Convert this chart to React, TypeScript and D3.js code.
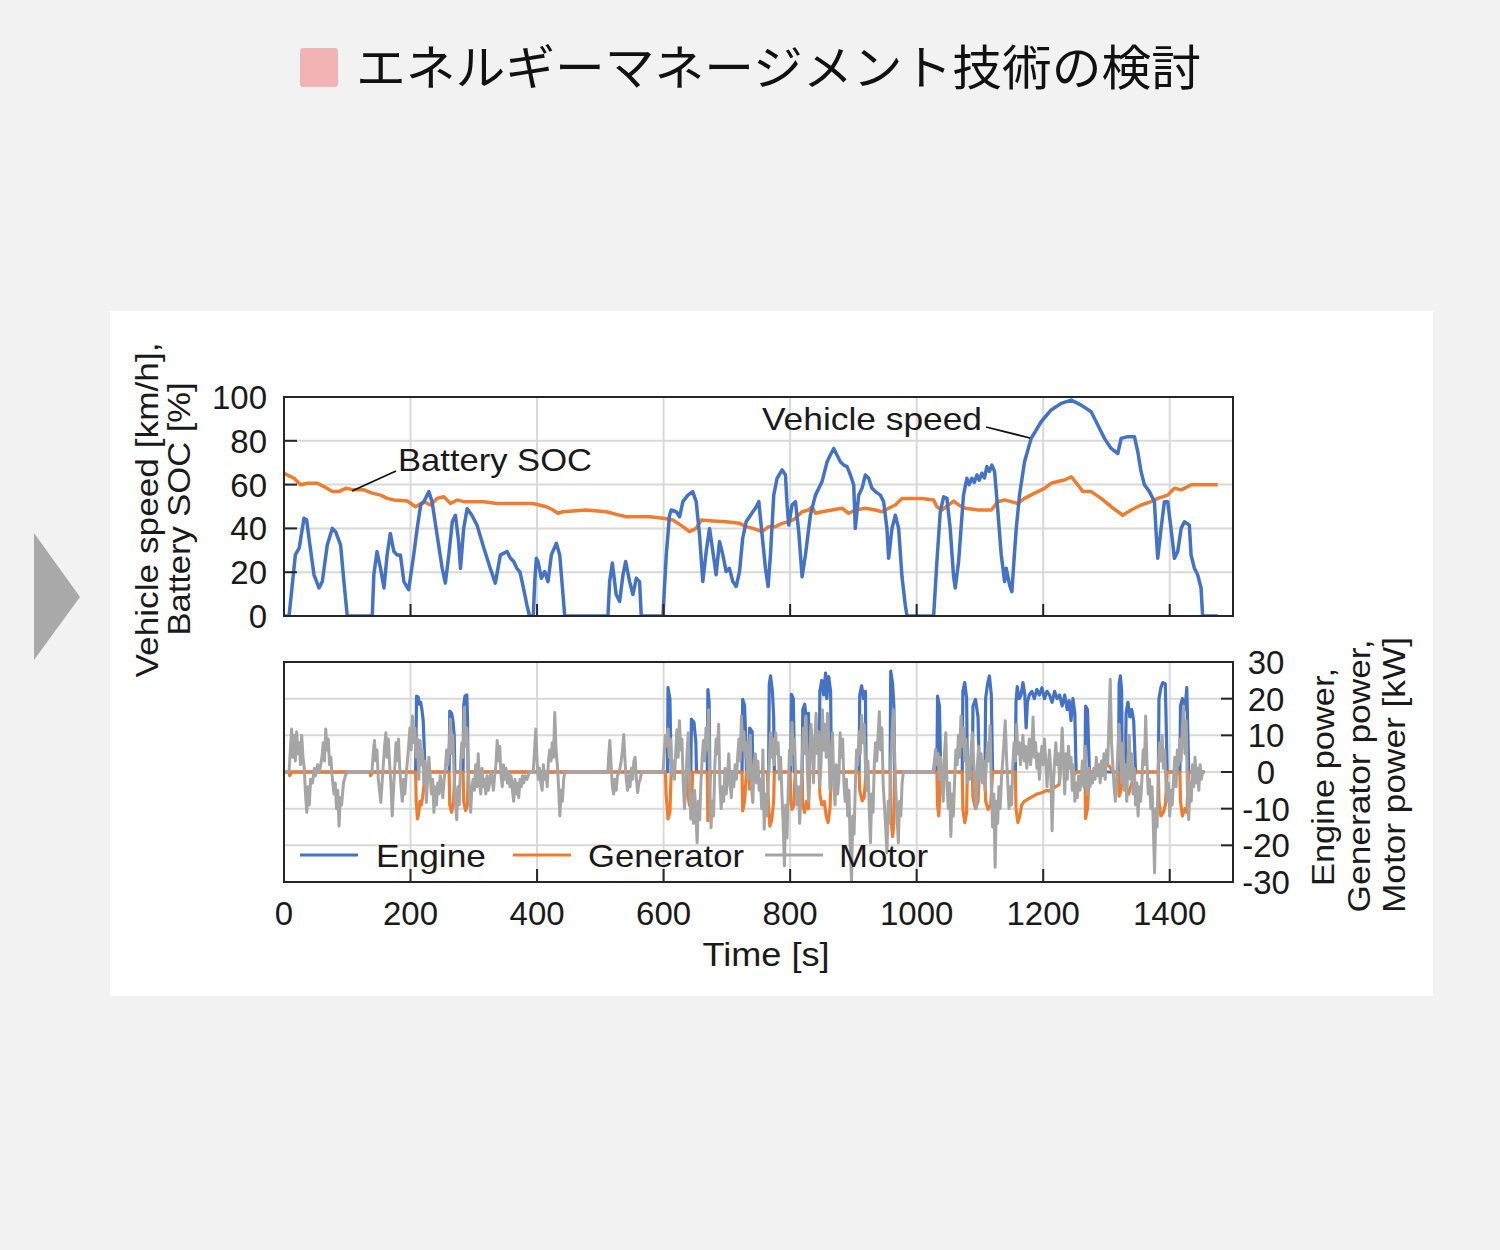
import React from "react";
import * as d3 from "d3";

const titleText = "エネルギーマネージメント技術の検討";
const timeTicks = [0, 200, 400, 600, 800, 1000, 1200, 1400];
const speedTicks = [0, 20, 40, 60, 80, 100];
const powerTicks = [30, 20, 10, 0, -10, -20, -30];
const seriesNames = ["Engine", "Generator", "Motor"];

// [time s, speed km/h]
const vehicleSpeed: [number, number][] = [
  [0,0],[8,0],[18,28],[24,31],[31.6,44.6],[35.8,43.8],[39.5,35.5],[47.4,18.8],[55.3,12.8],[60.5,15.7],[68.4,32.4],[76.3,40],[81.6,38.5],[89.5,32.4],[94.7,15.7],[100,0],
  [139.5,0],[142,18.8],[147,29.4],[152.6,21.8],[158,12.8],[163,27.9],[168,37.7],[173.7,29.4],[179,27.9],[184,27.9],[189.5,15.7],[197,12],[205,27.9],[210.5,40],[216,50.7],[221,52.2],[229,56.8],[234,52.2],[242,37],[250,21.8],[255,15],[260.5,27.9],[266,43],[271,46],[276,34],[279,21.8],[284,40],[289.5,49],[297,46],[305,41.5],[316,30.9],[326,21.8],[334,15],[342,27.9],[352.6,29.4],[358,26.4],[363,24.9],[368,21.8],[373,20],[379,12],[384,5],[388,0],
  [394,0],[396.3,15.7],[398.9,26.4],[401.5,24.9],[406.8,17.2],[412,20.3],[417.3,15.7],[422.6,27.9],[430.5,33.2],[435.8,27.9],[441,9.8],[443.7,0],
  [512,0],[514.7,15.7],[519,24.2],[525,9.8],[530.5,6.6],[535.8,18.8],[540,24.9],[546.3,15.7],[551.5,9.8],[556.8,17.2],[562,15.7],[564.7,0],
  [599,0],[604.2,27.9],[609.4,46],[612,48.4],[620,47.6],[625.2,45.3],[630.5,52.2],[638.4,55.2],[646,56.8],[651.5,52.2],[656.8,37],[662,15.7],[667.3,29.4],[672.6,40],[677.9,29.4],[683,18.8],[688.4,34],[693.6,27.9],[698.9,20.3],[704,21.8],[709.4,15.7],[714.7,13.5],[720,20.3],[725,35.5],[730.5,43],[741,47.6],[745.2,49.2],[750.5,52.2],[755.7,37],[761,21.8],[765.2,13.5],[768.9,27.9],[774.1,55.2],[779.4,62.9],[787.3,66.7],[792.6,64.4],[795.2,50.7],[797.8,41.5],[803,50.7],[808.4,52.2],[813.6,38.5],[818.9,17.9],[824.2,27.9],[832,46],[840,55.2],[850.5,61.4],[858.4,70.4],[863.6,73.5],[868.9,76.5],[874.1,73.5],[879.4,70.4],[884.7,68.9],[890,68.2],[895.2,64.4],[900.5,59.9],[903,40],[908.4,55.2],[913.6,58.3],[918.9,64.4],[924.1,62.9],[929.4,58.3],[934.7,56.8],[942.6,55.2],[947.8,52.2],[953,40],[955.7,26.4],[961,40],[966.3,46],[971.5,40],[976.8,17.9],[982,5],[984.7,0],
  [1026.8,0],[1032,24.9],[1037.3,47.6],[1042.6,54.4],[1047.8,53.7],[1053,40],[1058.4,17.9],[1061,12.8],[1066.3,24.9],[1074,55.2],[1079.4,62.9],[1083,60],[1087.3,62.9],[1091,61],[1095.2,64.4],[1099,62],[1103,65.2],[1107,63],[1111,68.2],[1115,66],[1118.9,68.9],[1123.2,65.9],[1128.4,47.6],[1133.7,27.9],[1139,15.7],[1141.6,21.8],[1146.8,14.2],[1150.5,11.1],[1153.7,24.9],[1157.4,40],[1162.6,55.2],[1170.5,70.4],[1181,81.1],[1196.8,88.7],[1212.6,94.1],[1228.4,97.1],[1244.2,98.6],[1260,96.3],[1275.8,93.3],[1286.3,87.2],[1296.8,81.1],[1307.4,76.5],[1317.9,74.2],[1323.2,81.1],[1333.7,81.9],[1344.2,81.9],[1349.5,75],[1354.7,65.9],[1360,59.9],[1367.9,56.8],[1375.8,52.2],[1378.4,38.5],[1381,26.4],[1386.3,40],[1391.6,52.2],[1396.8,52.2],[1402,40],[1407.4,26.4],[1412.6,29.4],[1418,40],[1423.2,43],[1431,41.5],[1433.7,27.9],[1439,21.8],[1444.2,18.8],[1449.5,12.8],[1452,0],[1476,0]
];

// [time s, SOC %]
const batterySoc: [number, number][] = [
  [0,65.2],[15.8,62.9],[26.3,59.9],[36.8,60.6],[52.6,60.6],[63.2,59.1],[76.3,56.8],[86.8,56.8],[97.4,58.3],[110.5,57.6],[126.3,57.6],[139.5,56.1],[152.6,55.2],[163.2,53.7],[173.7,53],[194.7,52.5],[207.9,49.9],[221,52.2],[231.6,50.7],[242,53.7],[252.6,54.5],[263.2,51.4],[273.7,53],[284.2,52.2],[294.7,52.2],[315.8,52.2],[336.8,51.4],[357.9,51.4],[372.6,51.4],
  [393.7,51.4],[414.7,49.9],[425.2,48.4],[433.1,46.9],[441,47.6],[477.9,48.4],[509.4,47.6],[525.2,46.4],[541,45.3],[562,45.3],[578,45.3],[599,44.6],[614.7,43.8],[630.5,40.8],[641,38.5],[651.5,40],[659.4,43.8],[677.9,43.4],[699,43],[720,42.3],[730.5,40.8],[741,40],[755.7,38.5],
  [766,40.8],[776.8,40.8],[787.3,42.3],[797.8,43],[808.4,44.6],[818.9,47.6],[829.4,48.4],[834.7,49.9],[840,46.9],[850.5,47.6],[866.3,48.4],[882,49.2],[892.6,46.9],[903,48.4],[918.9,49.2],[934.7,48.4],[945.2,47.6],[955.7,49.2],[966.3,50.7],[976.8,53.7],[1008.4,53.7],[1026.8,53],[1032,49.9],[1040,48.4],[1050.5,50.7],[1058.4,52.5],[1066.3,50.7],[1076.8,49.2],[1097.8,48.4],[1118,48.4],
  [1128.4,52.2],[1139,53],[1149.5,52.2],[1160,51.4],[1170.5,53.7],[1186.3,56.1],[1202,58.3],[1212.6,60.6],[1223,61.4],[1233.7,62.1],[1244.2,63.6],[1254.7,59.9],[1262.6,56.8],[1275.8,56.8],[1291.6,53.7],[1307.4,49.9],[1325.8,46],[1339,48.4],[1354.7,50.7],[1370.5,52.2],[1381,53.7],[1396.8,55.2],[1407.4,58.3],[1418,57.6],[1433.7,59.9],[1449.5,59.9],[1475.8,59.9]
];

// [time s, kW]
const enginePower: [number, number][] = [
  [0,0],[208,0],[209.5,20.7],[212,20.5],[214,18.5],[216,19],[218,17],[220,14],[222,5],[223,0],
  [261,0],[262,16.6],[265,16],[267,14],[269,10],[270,0],
  [283,0],[284,18],[286,20.7],[289,21],[290,15],[291,0],
  [606,0],[607,23],[610,20],[612,0],
  [643,0],[644,14.4],[648,13.5],[651,8],[652,0],
  [669,0],[670,22.5],[672,19],[673,0],
  [724,0],[725,19.8],[728,18],[730,8],[731,0],
  [735,0],[736,12],[740,11],[741,0],
  [766,0],[767,24],[769,26.2],[772,22],[774,15],[775,0],
  [801,0],[802,21.2],[805,20],[807,0],
  [819,0],[820,17],[823,18.5],[826,14],[829,16],[830,0],
  [846,0],[847,22],[850,25],[853,21],[856,27],[858,20],[861,26],[864,22],[865,0],
  [909,0],[910,21],[913,23.5],[916,20],[919,22],[920,0],
  [958,0],[959,27.5],[962,24],[964,18],[965,0],
  [1032,0],[1033,20.7],[1036,18],[1038,0],
  [1072,0],[1073,22],[1076,24.4],[1079,20],[1080,0],
  [1088,0],[1089,18],[1093,19.8],[1097,15],[1099,0],
  [1108,0],[1109,20],[1112,24],[1115,26.2],[1118,21],[1120,0],
  [1156,0],[1157,19],[1159,23.3],[1162,20],[1165,21],[1168,24.4],[1171,21],[1173,12],[1175,19],[1178,21],[1182,22],[1186,20],[1190,22.5],[1194,21],[1198,23],[1202,20],[1206,22],[1210,21],[1214,19],[1218,22],[1222,20],[1226,21],[1230,18],[1234,21],[1238,17],[1241,19.5],[1244,14],[1247,20],[1250,16],[1252,0],
  [1266,0],[1267,18],[1270,17],[1273,0],
  [1319,0],[1320,24],[1322,26.2],[1324,22],[1325,0],
  [1330,0],[1331,16],[1334,19],[1337,15],[1340,17],[1343,14],[1346,0],
  [1382,0],[1383,20],[1386,23],[1389,24.4],[1393,24],[1396,0],
  [1416,0],[1417,18],[1420,20],[1424,17],[1427,23],[1430,0],[1455,0]
];

const generatorPower: [number, number][] = [
  [0,0],[8,0],[9,-1],[12,0],[136,0],[137,-1],[140,0],
  [208,0],[209,-8],[211,-12.8],[213,-11],[215,-8],[217,-9],[219,-7],[221,-4],[223,0],
  [261,0],[262,-9],[265,-11],[268,-8],[270,0],
  [283,0],[284,-8],[287,-10.5],[290,-9],[291,0],
  [603,0],[604,-6],[607,-12.8],[610,-11],[612,0],
  [637,0],[638,-6],[641,-9.1],[644,-8],[646,0],
  [669,0],[670,-13.3],[672,-9],[674,0],
  [724,0],[725,-10.6],[728,-8],[731,0],
  [735,0],[736,-4.7],[740,-4],[741,0],
  [764,0],[766,-10],[768,-14.8],[771,-13],[774,-8],[775,0],
  [800,0],[801,-8],[803,-10.2],[806,-9],[808,0],
  [819,0],[820,-9],[823,-11],[826,-8],[829,-10],[831,0],
  [846,0],[847,-6],[850,-9],[854,-8],[857,-12],[860,-13.8],[863,-10],[865,0],
  [909,0],[910,-5],[914,-7.9],[917,-7],[920,0],
  [958,0],[959,-12],[962,-17.6],[964,-14],[965,0],
  [1032,0],[1033,-9],[1035,-12],[1038,0],
  [1072,0],[1073,-10],[1076,-13.8],[1079,-11],[1080,0],
  [1088,0],[1089,-7],[1093,-10],[1097,-8],[1099,0],
  [1108,0],[1109,-8],[1113,-10.2],[1117,-9],[1120,0],
  [1156,0],[1157,-10],[1160,-13.8],[1163,-12],[1166,-9],[1170,-8],[1175,-7.5],[1180,-7],[1185,-6.5],[1190,-6],[1195,-5.8],[1200,-5.5],[1205,-5],[1210,-5.2],[1215,-4.5],[1220,-4],[1225,-3.5],[1228,2],[1232,4],[1236,1.5],[1240,3],[1244,1],[1247,-1],[1250,-0.5],[1252,0],
  [1266,0],[1267,-12.7],[1270,-10],[1273,0],
  [1285,0],[1288,1.5],[1295,1],[1300,2],[1305,1.5],[1310,0],
  [1319,0],[1320,-6.6],[1323,-5],[1325,0],
  [1330,0],[1331,-4],[1335,-6],[1340,-3],[1346,0],
  [1382,0],[1383,-8],[1386,-12],[1390,-11],[1393,-9],[1396,0],
  [1416,0],[1417,-8],[1420,-12],[1424,-10],[1427,-11],[1430,0],[1455,0]
];

const motorPower: [number, number][] = [
  [0,0],[8,0],[10,6],[12,11.7],[14,4],[16,10],[18,3],[20,11],[22,5],[24,8],[26,2],[28,10],[30,4],[32,1],[34,-6],[36,-11],[38,-4],[40,-9],[42,-2],[45,-3],[48,1],[50,-1],[53,2],[56,0],[60,4],[62,8],[64,3],[66,11.7],[68,6],[70,9],[72,2],[74,4],[76,-1],[79,-6],[81,-3],[83,-10],[85,-5],[87,-14.8],[89,-7],[91,-9],[94,-3],[97,-1],[100,0],
  [139,0],[141,5],[143,8.6],[145,3],[147,6],[149,-2],[151,-5],[153,-8.3],[155,-3],[157,2],[159,7],[161,10.7],[163,4],[165,9],[167,2],[169,-3],[171,-12],[173,-5],[175,1],[177,8],[179,3],[181,9],[183,1],[185,-4],[187,-8],[189,-2],[191,-6],[193,-1],[195,3],[197,7],[199,12],[201,6],[203,15.3],[205,8],[207,12],[209,4],
  [211,9],[213,-2],[215,8.6],[217,2],[219,6],[221,-3],[223,3],[225,-8.3],[227,-2],[229,4],[231,-1],[233,-6],[235,-2],[237,-11],[239,-4],[241,-9],[243,-3],[245,-6],[247,-1],[249,-4],[251,-7],[253,-2],[255,1],[257,6],[259,2],[261,7],[263,14.4],[265,5],[267,10],[269,-2],[271,-8],[273,-13],[275,-4],[277,-9],[279,2],[281,8],[283,4],[285,17.6],[287,7],[289,12],[291,3],[293,-6],[295,-11],[297,-4],[299,-2],[301,-5],[303,2],[305,-4],[307,5],[309,-3],[311,-6],[313,1],[315,-4],[317,-2],[319,-6],[321,-1],[323,-5],[325,-3],[327,0],[329,-2],[331,-5],[333,-1],[335,2],[337,8.6],[339,3],[341,7],[343,-1],[345,-4],[347,2],[349,-2],[351,1],[353,-3],[355,0],[357,-4],[359,-1],[361,-5],[363,-8],[365,-2],[367,-6],[369,-3],[371,-7],[373,-2],[375,-4],[377,-1],[379,-3],[381,-1],[384,-2],[388,0],
  [394,0],[396,6],[398,11.7],[400,3],[402,-2],[404,1],[406,-3],[408,-5],[410,2],[412,-2],[414,0],[416,-4],[418,3],[420,6],[422,3],[424,8],[426,4],[428,16.2],[430,6],[432,2],[434,-4],[436,-12],[438,-5],[440,-8],[442,-2],[444,0],
  [512,0],[513,4],[515,8.6],[517,2],[519,-4],[521,-6],[523,-2],[525,-5],[527,-1],[530,0],[533,3],[535,6],[537,10.2],[539,3],[541,-2],[543,-5],[545,-1],[547,-4],[549,1],[551,-2],[553,3],[555,4],[557,-2],[559,-5.6],[561,-3],[563,-2],[565,0],
  [599,0],[601,5],[603,10],[605,7],[607,11.7],[609,4],[611,9],[613,-1],[615,3],[617,-2],[619,5],[621,11.5],[623,4],[625,14],[627,6],[629,9],[631,-3],[633,-10],[635,-4],[637,5],[639,10.7],[641,-2],[643,-12.8],[645,-6],[647,-14],[649,-5],[651,-11],[653,-19.3],[655,-8],[657,-13],[659,-3],[661,4],[663,8.6],[665,3],[667,12],[669,6],[671,17],[673,-4],[675,-15.2],[677,-8],[679,-12],[681,2],[683,9],[685,5],[687,13],[689,-3],[691,-10],[693,-4],[695,-8],[697,1],[699,-6],[701,-2],[703,5],[705,-3],[707,-7],[709,0],[711,-4],[713,2],[715,-2],[717,4],[719,9],[721,3],[723,15.3],[725,6],[727,11],[729,4],[731,8],[733,-2],[735,5],[737,10],[739,-4],[741,-8.3],[743,2],[745,5],[747,-3],[749,3],[751,-5],
  [753,-2],[755,-10],[757,6],[759,-15.6],[761,-6],[763,-12],[765,-4],[767,3],[769,10.7],[771,4],[773,9],[775,2],[777,10.7],[779,5],[781,8],[783,-2],[785,4],[787,-6],[789,-14],[791,-25.6],[793,-9],[795,-18],[797,-5],[799,6],[801,2],[803,13.5],[805,5],[807,9],[809,-3],[811,-9],[813,-4],[815,-14],[817,-6],[819,3],[821,12],[823,5],[825,15.3],[827,2],[829,-8],[831,4],[833,13],[835,7],[837,-3],[839,9],[841,16],[843,5],[845,11],[847,-4],[849,3],[851,17],[853,6],[855,13],[857,4],[859,16],[861,8],[863,-5],[865,3],[867,10.7],[869,-4],[871,-9],[873,2],[875,-6],[877,-2],[879,10.7],[881,4],[883,9],[885,-3],[887,-8],[889,-2],[891,-12],[893,-5],[895,-20],[897,-30],[899,-12],[901,-17],[903,-4],[905,6],[907,2],[909,11],[911,5],[913,15.5],[915,8],[917,13],[919,2],[921,-5],[923,3],[925,-10],[927,-19.3],[929,-6],[931,-11],[933,2],[935,8],[937,3],[939,10],[941,16.4],[943,6],[945,12],[947,-3],[949,-9],[951,-15],[953,-22],[955,-8],[957,-14],[959,3],[961,10],[963,17],[965,6],[967,-5],[969,-12],[971,-19.3],[973,-8],[975,-12],[977,-3],[979,0],
  [1026,0],[1028,3],[1030,6.2],[1032,2],[1034,5],[1036,-2],[1038,4],[1040,-3],[1042,-8],[1044,5],[1046,10.7],[1048,-4],[1050,-10],[1052,-3],[1054,-17.6],[1056,-6],[1058,-12],[1060,-2],[1062,6],[1064,2],[1066,10],[1068,4],[1070,15.3],[1072,7],[1074,12],[1076,3],[1078,9],[1080,-3],[1082,4],[1084,-2],[1086,6],[1088,10.7],[1090,3],[1092,-4],[1094,-10],[1096,2],[1098,7],[1100,-2],[1102,5],[1104,-3],[1106,3],[1108,-5],[1110,2],[1112,8],[1114,3],[1116,12.7],[1118,-4],[1120,-15],[1122,-6],[1124,-26],[1126,-8],[1128,-14],[1130,-4],[1132,-10],[1134,-2],[1136,3],[1138,8],[1140,14],[1142,4],[1144,-3],[1146,-10],[1148,-4],[1150,-9],[1152,2],[1154,8],[1156,3],[1158,13],[1160,5],[1162,8],[1164,2],[1166,6],[1168,10],[1170,3],[1172,7],[1174,1],[1176,5],[1178,9],[1180,2],[1182,6],[1184,15],[1186,4],[1188,8],[1190,1],[1192,5],[1194,-2],[1196,4],[1198,7],[1200,2],[1202,9],[1204,3],[1206,-4],[1208,2],[1210,6],[1212,0],[1214,-16],[1216,-4],[1218,3],[1220,8],[1222,2],[1224,5],[1226,-3],[1228,4],[1230,12],[1232,3],[1234,-6],[1236,5],[1238,-2],[1240,7],[1242,1],[1244,4],[1246,-5],[1248,2],[1250,-8],[1252,-3],[1254,-7],[1256,-1],[1258,-5],[1260,-2],[1262,3],[1264,-4],[1266,7],[1268,-3],[1270,-6],[1272,1],[1274,-4],[1276,-1],[1278,-3],[1280,1],[1282,-2],[1284,4],[1286,-1],[1288,2],[1290,-3],[1292,3],[1294,-1],[1296,5],[1298,-2],[1300,6],[1302,2],[1304,14],[1306,25.3],[1308,8],[1310,2],[1312,-4],[1314,-8],[1316,-2],[1318,6],[1320,13],[1322,4],[1324,-3],[1326,8],[1328,-5],[1330,2],[1332,-8],[1334,3],[1336,10],[1338,-2],[1340,5],[1342,-6],[1344,1],[1346,-9],[1348,-3],[1350,-12],[1352,-4],[1354,-8],[1356,-2],[1358,6],[1360,2],[1362,15.3],[1364,3],[1366,-6],[1368,-2],[1370,-10],[1372,-4],[1374,-14],[1376,-27.5],[1378,-10],[1380,-15],[1382,2],[1384,8],[1386,3],[1388,10],[1390,1],[1392,6],[1394,-3],[1396,-8],[1398,-3],[1400,-12],[1402,-5],[1404,-9],[1406,-2],[1408,4],[1410,-4],[1412,6],[1414,2],[1416,9],[1418,3],[1420,12],[1422,18],[1424,5],[1426,14],[1428,-6],[1430,-13],[1432,-3],[1434,-8],[1436,2],[1438,-4],[1440,4],[1442,-3],[1444,1],[1446,-5],[1448,2],[1450,-2],[1452,0],[1455,0]
];

const BLUE = "#4472c4";
const ORANGE = "#ed7d31";
const GRAY = "#a5a5a5";
const GRID = "#d9d9d9";
const FRAME = "#262626";
const TXT = "#1a1a1a";
const FONT = "'Liberation Sans', Arial, sans-serif";

export default function App() {
  const x = d3.scaleLinear().domain([0, 1500]).range([284, 1233]);
  const yTop = d3.scaleLinear().domain([0, 100]).range([616, 397]);
  const yBot = d3.scaleLinear().domain([-30, 30]).range([882, 662]);
  const lineTop = d3.line<[number, number]>().x(d => x(d[0])).y(d => yTop(d[1]));
  const lineBot = d3.line<[number, number]>().x(d => x(d[0])).y(d => yBot(d[1]));
  const [x0, x1] = x.range();
  const topY0 = yTop(100), topY1 = yTop(0);
  const botY0 = yBot(30), botY1 = yBot(-30);

  return (
    <svg width={1500} height={1250} style={{ position: "absolute", left: 0, top: 0 }} fontFamily={FONT}>
      <defs>
        <clipPath id="clipTop"><rect x={x0} y={topY0} width={x1 - x0} height={topY1 - topY0} /></clipPath>
        <clipPath id="clipBot"><rect x={x0} y={botY0} width={x1 - x0} height={botY1 - botY0} /></clipPath>
      </defs>
      <rect x={0} y={0} width={1500} height={1250} fill="#f2f2f2" />
      {/* title */}
      <rect x={300} y={48} width={38} height={39} rx={3} fill="#f1b3b3" />
      <text x={356} y={85} fontSize={48} fill="#111" fontFamily="'Noto Sans CJK JP', sans-serif" textLength={845} lengthAdjust="spacingAndGlyphs">{titleText}</text>
      {/* arrow */}
      <polygon points="34,533 80,597 34,660" fill="#a9a9a9" />
      {/* panel */}
      <rect x={110} y={311} width={1323} height={685} fill="#ffffff" />

      {/* top plot grid */}
      {speedTicks.filter(v => v > 0 && v < 100).map(v => (
        <line key={"hg" + v} x1={x0} x2={x1} y1={yTop(v)} y2={yTop(v)} stroke={GRID} strokeWidth={2} />
      ))}
      {timeTicks.filter(t => t > 0).map(t => (
        <line key={"vg" + t} x1={x(t)} x2={x(t)} y1={topY0} y2={topY1} stroke={GRID} strokeWidth={2} />
      ))}
      {/* bottom plot grid */}
      {powerTicks.filter(v => v > -30 && v < 30).map(v => (
        <line key={"hb" + v} x1={x0} x2={x1} y1={yBot(v)} y2={yBot(v)} stroke={GRID} strokeWidth={2} />
      ))}
      {timeTicks.filter(t => t > 0).map(t => (
        <line key={"vb" + t} x1={x(t)} x2={x(t)} y1={botY0} y2={botY1} stroke={GRID} strokeWidth={2} />
      ))}

      {/* top series */}
      <g clipPath="url(#clipTop)" fill="none" strokeLinejoin="round">
        <path d={lineTop(batterySoc) || ""} stroke={ORANGE} strokeWidth={3.5} />
        <path d={lineTop(vehicleSpeed) || ""} stroke={BLUE} strokeWidth={3.5} />
      </g>
      {/* bottom series */}
      <g clipPath="url(#clipBot)" fill="none" strokeLinejoin="round">
        <path d={lineBot(enginePower) || ""} stroke={BLUE} strokeWidth={3.2} />
        <path d={lineBot(generatorPower) || ""} stroke={ORANGE} strokeWidth={3.2} />
        <path d={lineBot(motorPower) || ""} stroke={GRAY} strokeWidth={3} />
      </g>

      {/* frames */}
      <rect x={x0} y={topY0} width={x1 - x0} height={topY1 - topY0} fill="none" stroke={FRAME} strokeWidth={2} />
      <rect x={x0} y={botY0} width={x1 - x0} height={botY1 - botY0} fill="none" stroke={FRAME} strokeWidth={2} />

      {/* ticks */}
      {speedTicks.map(v => (
        <line key={"tl" + v} x1={x0} x2={x0 + 13} y1={yTop(v)} y2={yTop(v)} stroke={FRAME} strokeWidth={2} />
      ))}
      {timeTicks.map(t => (
        <g key={"tx" + t}>
          <line x1={x(t)} x2={x(t)} y1={topY1} y2={topY1 - 12} stroke={FRAME} strokeWidth={2} />
          <line x1={x(t)} x2={x(t)} y1={botY1} y2={botY1 - 13} stroke={FRAME} strokeWidth={2} />
        </g>
      ))}
      {powerTicks.map(v => (
        <line key={"tr" + v} x1={x1} x2={x1 - 12} y1={yBot(v)} y2={yBot(v)} stroke={FRAME} strokeWidth={2} />
      ))}

      {/* tick labels */}
      {speedTicks.map(v => (
        <text key={"ls" + v} x={267} y={yTop(v) + 12} fontSize={33} fill={TXT} textAnchor="end">{v}</text>
      ))}
      {powerTicks.map(v => (
        <text key={"lp" + v} x={1266} y={yBot(v) + 12} fontSize={33} fill={TXT} textAnchor="middle">{v}</text>
      ))}
      {timeTicks.map(t => (
        <text key={"lt" + t} x={x(t)} y={925} fontSize={33} fill={TXT} textAnchor="middle">{t}</text>
      ))}

      {/* axis titles */}
      <text x={766} y={966} fontSize={33} fill={TXT} textAnchor="middle" textLength={127} lengthAdjust="spacingAndGlyphs">Time [s]</text>
      <text transform="translate(158,510) rotate(-90)" fontSize={32} fill={TXT} textAnchor="middle" textLength={335} lengthAdjust="spacingAndGlyphs">Vehicle speed [km/h],</text>
      <text transform="translate(190,509) rotate(-90)" fontSize={32} fill={TXT} textAnchor="middle" textLength={253} lengthAdjust="spacingAndGlyphs">Battery SOC [%]</text>
      <text transform="translate(1334,777) rotate(-90)" fontSize={32} fill={TXT} textAnchor="middle" textLength={218} lengthAdjust="spacingAndGlyphs">Engine power,</text>
      <text transform="translate(1370,776) rotate(-90)" fontSize={32} fill={TXT} textAnchor="middle" textLength={273} lengthAdjust="spacingAndGlyphs">Generator power,</text>
      <text transform="translate(1405,775) rotate(-90)" fontSize={32} fill={TXT} textAnchor="middle" textLength={276} lengthAdjust="spacingAndGlyphs">Motor power [kW]</text>

      {/* annotations */}
      <text x={398} y={471} fontSize={32} fill={TXT} textLength={194} lengthAdjust="spacingAndGlyphs">Battery SOC</text>
      <line x1={396} y1={471} x2={352} y2={491} stroke="#111" strokeWidth={1.8} />
      <text x={762} y={430} fontSize={32} fill={TXT} textLength={220} lengthAdjust="spacingAndGlyphs">Vehicle speed</text>
      <line x1={986} y1={427} x2={1030} y2={438} stroke="#111" strokeWidth={1.8} />

      {/* legend */}
      {[
        { name: seriesNames[0], color: BLUE, lx: 300, tx: 376, w: 110 },
        { name: seriesNames[1], color: ORANGE, lx: 513, tx: 588, w: 156 },
        { name: seriesNames[2], color: GRAY, lx: 765, tx: 839, w: 89 },
      ].map(item => (
        <g key={item.name}>
          <line x1={item.lx} x2={item.lx + 58} y1={855} y2={855} stroke={item.color} strokeWidth={3} />
          <text x={item.tx} y={867} fontSize={32} fill={TXT} textLength={item.w} lengthAdjust="spacingAndGlyphs">{item.name}</text>
        </g>
      ))}
    </svg>
  );
}
